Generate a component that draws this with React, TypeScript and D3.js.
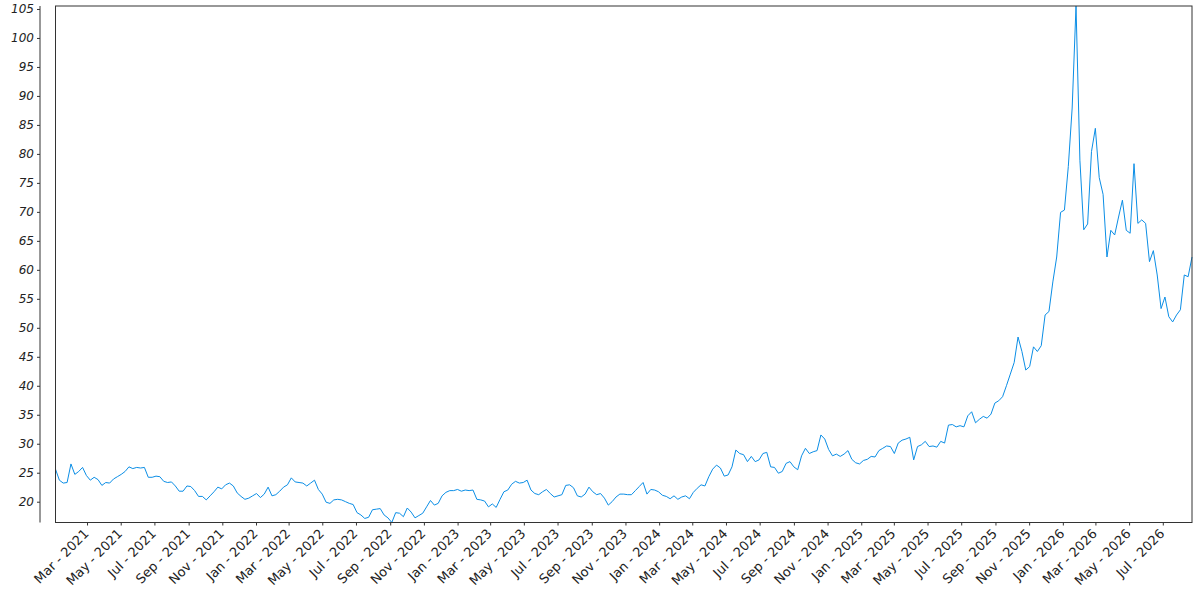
import { useMemo } from "react";
import * as d3 from "d3";

const WIDTH = 1200;
const HEIGHT = 600;
const MARGIN = { top: 6, right: 8, bottom: 77.5, left: 55.5 };
const AXIS_X = 40;

// weekly closes, first week starting 2021-01-02
const START_DATE = "2021-01-02";
const VALUES = [
    25.7, 23.8, 23.3, 23.4, 26.6, 24.8, 25.3, 26.0, 24.6, 23.8,
    24.3, 23.9, 22.9, 23.4, 23.3, 24.0, 24.4, 24.8, 25.3, 26.1,
    25.8, 26.0, 25.9, 26.0, 24.3, 24.3, 24.5, 24.4, 23.6, 23.4,
    23.5, 22.8, 21.9, 21.9, 22.8, 22.7, 22.0, 21.0, 21.0, 20.4,
    21.1, 21.8, 22.6, 22.3, 23.0, 23.3, 22.8, 21.6, 21.0, 20.5,
    20.7, 21.1, 21.5, 20.8, 21.4, 22.6, 21.1, 21.3, 21.9, 22.6,
    23.0, 24.2, 23.5, 23.4, 23.3, 22.8, 23.3, 23.8, 22.2, 21.4,
    20.0, 19.8, 20.4, 20.5, 20.4, 20.1, 19.8, 19.6, 18.2, 17.8,
    17.2, 17.4, 18.7, 18.8, 18.9, 17.8, 17.3, 16.5, 18.2, 18.1,
    17.5, 19.0, 18.3, 17.3, 17.7, 18.1, 19.2, 20.3, 19.5, 19.8,
    21.1, 21.7, 22.0, 22.0, 22.2, 21.9, 22.1, 22.0, 22.1, 20.5,
    20.4, 20.2, 19.2, 19.7, 19.1, 20.5, 21.8, 22.1, 23.1, 23.6,
    23.3, 23.4, 23.8, 22.1, 21.5, 21.3, 21.8, 22.2, 21.5, 20.9,
    21.1, 21.3, 22.9, 23.0, 22.5, 21.1, 20.9, 21.4, 22.6, 21.8,
    21.3, 21.5, 20.7, 19.5, 20.1, 20.9, 21.4, 21.4, 21.3, 21.3,
    22.0, 22.7, 23.4, 21.4, 22.2, 22.1, 21.8, 21.2, 21.0, 20.6,
    21.1, 20.5, 20.9, 21.1, 20.6, 21.7, 22.4, 23.0, 22.8, 24.4,
    25.7, 26.4, 25.9, 24.5, 24.7, 26.1, 29.0, 28.4, 28.2, 27.0,
    27.9, 27.0, 27.3, 28.4, 28.6, 26.1, 26.0, 25.0, 25.3, 26.7,
    27.0, 26.1, 25.6, 28.0, 29.3, 28.4, 28.7, 28.9, 31.6, 30.9,
    29.1, 28.0, 28.3, 27.9, 28.3, 28.9, 27.4, 26.8, 26.6, 27.2,
    27.4, 27.9, 27.8, 28.9, 29.3, 29.7, 29.6, 28.4, 30.2, 30.7,
    30.9, 31.2, 27.3, 29.6, 29.9, 30.5, 29.6, 29.7, 29.5, 30.5,
    30.2, 33.3, 33.4, 33.0, 33.2, 33.0, 34.9, 35.6, 33.7, 34.3,
    34.8, 34.5, 35.2, 37.1, 37.5, 38.2, 40.1, 42.1, 44.1, 48.5,
    46.0, 42.8, 43.4, 46.8, 46.0, 47.0, 52.3, 52.9, 58.0, 62.3,
    70.0, 70.4, 77.9, 88.0, 105.6, 79.0, 67.0, 68.0, 80.5, 84.5,
    76.0, 73.1, 62.3, 66.9, 66.1, 69.2, 72.1, 66.9, 66.4, 78.4,
    68.1, 68.7, 68.1, 61.5, 63.4, 59.2, 53.4, 55.4, 52.0, 51.1,
    52.3, 53.2, 59.2, 58.9, 62.3,
];
const Y_TICKS = [20, 25, 30, 35, 40, 45, 50, 55, 60, 65, 70, 75, 80, 85, 90, 95, 100, 105];

const LINE_COLOR = "#0b8ee6";
const AXIS_COLOR = "#333333";
const FONT = "DejaVu Sans, Verdana, sans-serif";

const LineChart = ({ width, height }: { width: number; height: number }) => {
    const boundsRight = width - MARGIN.right;
    const boundsBottom = height - MARGIN.bottom;

    const data = useMemo(() => {
        const start = d3.utcParse("%Y-%m-%d")(START_DATE) as Date;
        return VALUES.map((v, i) => ({ date: d3.utcWeek.offset(start, i), value: v }));
    }, []);

    const xScale = useMemo(() => {
        const [min, max] = d3.extent(data, (d) => d.date) as [Date, Date];
        return d3.scaleUtc().domain([min, max]).range([MARGIN.left, boundsRight]);
    }, [data, width]);

    const yScale = useMemo(() => {
        const [min, max] = d3.extent(data, (d) => d.value) as [number, number];
        return d3.scaleLinear().domain([min, max]).range([boundsBottom, MARGIN.top]);
    }, [data, height]);

    const path = d3
        .line<{ date: Date; value: number }>()
        .x((d) => xScale(d.date))
        .y((d) => yScale(d.value))(data);

    const xTicks = xScale.ticks(d3.utcMonth.every(2) as d3.TimeInterval);
    const fmt = d3.utcFormat("%b - %Y");

    return (
        <svg width={width} height={height} style={{ position: "absolute", left: 0, top: 0 }}>
            {/* y axis, detached from the plot frame */}
            <line x1={AXIS_X} x2={AXIS_X} y1={MARGIN.top} y2={boundsBottom} stroke={AXIS_COLOR} />
            {Y_TICKS.map((t) => (
                <g key={t}>
                    <line x1={AXIS_X - 3} x2={AXIS_X} y1={yScale(t)} y2={yScale(t)} stroke={AXIS_COLOR} />
                    <text
                        x={AXIS_X - 6}
                        y={yScale(t)}
                        textAnchor="end"
                        dominantBaseline="central"
                        fontSize={12}
                        fontStyle="italic"
                        fontFamily={FONT}
                        fill="#222"
                    >
                        {t}
                    </text>
                </g>
            ))}

            {/* x ticks */}
            {xTicks.map((t, i) => {
                const x = xScale(t);
                return (
                    <g key={i}>
                        <line x1={x} x2={x} y1={boundsBottom} y2={boundsBottom + 3} stroke={AXIS_COLOR} />
                        <text
                            transform={`translate(${x + 2},${boundsBottom + 12}) rotate(-45)`}
                            textAnchor="end"
                            fontSize={13}
                            fontFamily={FONT}
                            fill="#222"
                        >
                            {fmt(t)}
                        </text>
                    </g>
                );
            })}

            <path d={path ?? ""} fill="none" stroke={LINE_COLOR} strokeWidth={1} />

            <rect
                x={MARGIN.left}
                y={MARGIN.top}
                width={boundsRight - MARGIN.left}
                height={boundsBottom - MARGIN.top}
                fill="none"
                stroke={AXIS_COLOR}
            />
        </svg>
    );
};

export default function App() {
    return <LineChart width={WIDTH} height={HEIGHT} />;
}
